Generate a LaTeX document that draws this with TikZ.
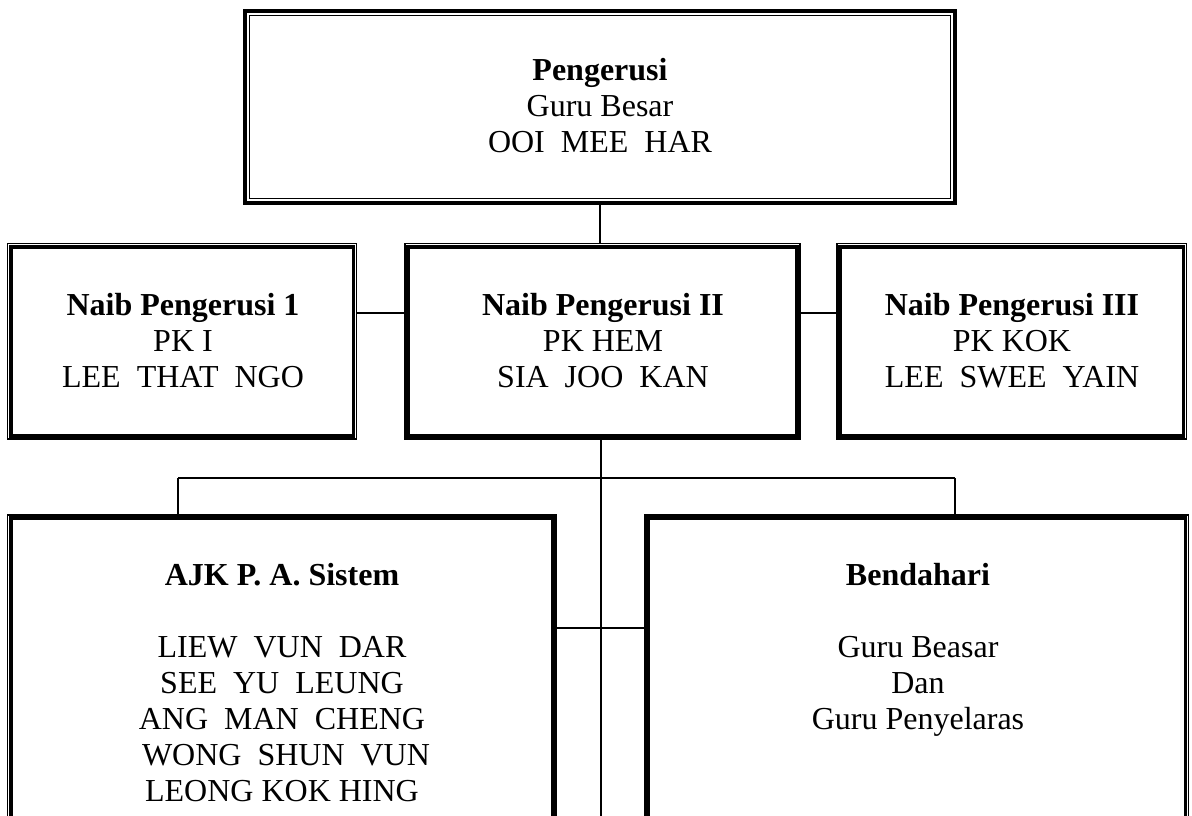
\documentclass[tikz,border=0pt]{standalone}
\usepackage{fontspec}
\setmainfont{Liberation Serif}
\begin{document}
\begin{tikzpicture}[x=1pt,y=-1pt,
  thickbox/.style={draw, line width=3.6pt, inner sep=0pt, outer sep=0pt},
  thinline/.style={draw, line width=1.3pt},
  conn/.style={draw, line width=1.6pt},
  txt/.style={align=center, inner sep=0pt, anchor=base, font=\fontsize{32}{36}\selectfont}]
\clip (0,0) rectangle (1192,815);
\fill[white] (0,0) rectangle (1192,815);

% top box: thick outside, thin inside
\node[thickbox, minimum width=710pt, minimum height=192pt] (top) at (600,107) {};
\draw[thinline] ([shift={(4.5pt,-4.5pt)}]top.north west) rectangle ([shift={(-4.5pt,4.5pt)}]top.south east);

% middle row: thin outside, thick inside
\node[thickbox, minimum width=342.6pt, minimum height=189.1pt] (n1) at (182,341.25) {};
\node[thickbox, minimum width=388.6pt, minimum height=189.1pt] (n2) at (602.5,341.25) {};
\node[thickbox, minimum width=343.1pt, minimum height=189.1pt] (n3) at (1011.75,341.25) {};
\foreach \n in {n1,n2,n3}
  \draw[thinline] ([shift={(-3.2pt,3.2pt)}]\n.north west) rectangle ([shift={(3.2pt,-3.2pt)}]\n.south east);

% bottom row
\node[thickbox, minimum width=542.1pt, minimum height=331.8pt] (b1) at (281.75,684.1) {};
\node[thickbox, minimum width=537.1pt, minimum height=331.8pt] (b2) at (916.75,684.1) {};
\foreach \n in {b1,b2}
  \draw[thinline] ([shift={(-3.2pt,3.2pt)}]\n.north west) rectangle ([shift={(3.2pt,-3.2pt)}]\n.south east);

% connector helper coordinates
\coordinate (cy1) at (0,313);
\coordinate (cy2) at (0,628);
\coordinate (cl) at (178,478);
\coordinate (cr) at (955,478);
\coordinate (bot) at (601,830);

% connectors
\draw[conn] (top.south) -- ([yshift=3.2pt]n2.north -| top.south);
\draw[conn] ([xshift=3.2pt]n1.east |- cy1) -- ([xshift=-3.2pt]n2.west |- cy1);
\draw[conn] ([xshift=3.2pt]n2.east |- cy1) -- ([xshift=-3.2pt]n3.west |- cy1);
\draw[conn] ([yshift=-3.2pt]n2.south -| bot) -- (bot);
\draw[conn] (cl) -- (cr);
\draw[conn] (cl) -- ([yshift=3.2pt]b1.north -| cl);
\draw[conn] (cr) -- ([yshift=3.2pt]b2.north -| cr);
\draw[conn] ([xshift=3.2pt]b1.east |- cy2) -- ([xshift=-3.2pt]b2.west |- cy2);

% texts (anchor=base is the baseline of the last line)
\node[txt] (ttop) at (600,152) {\textbf{Pengerusi}\\Guru Besar\\OOI\ \ MEE\ \ HAR};
\node[txt] (t1) at (183,387) {\textbf{Naib Pengerusi 1}\\PK I\\LEE\ \ THAT\ \ NGO};
\node[txt] (t2) at (603,387) {\textbf{Naib Pengerusi II}\\PK HEM\\SIA\ \ JOO\ \ KAN};
\node[txt] (t3) at (1012,387) {\textbf{Naib Pengerusi III}\\PK KOK\\LEE\ \ SWEE\ \ YAIN};
\node[txt] (tb1) at (282,801) {\textbf{AJK P. A. Sistem}\\[36pt]LIEW\ \ VUN\ \ DAR\\SEE\ \ YU\ \ LEUNG\\ANG\ \ MAN\ \ CHENG\\\ WONG\ \ SHUN\ \ VUN\\LEONG KOK HING};
\node[txt] (tb2) at (918,729) {\textbf{Bendahari}\\[36pt]Guru Beasar\\Dan\\Guru Penyelaras};
\end{tikzpicture}
\end{document}
